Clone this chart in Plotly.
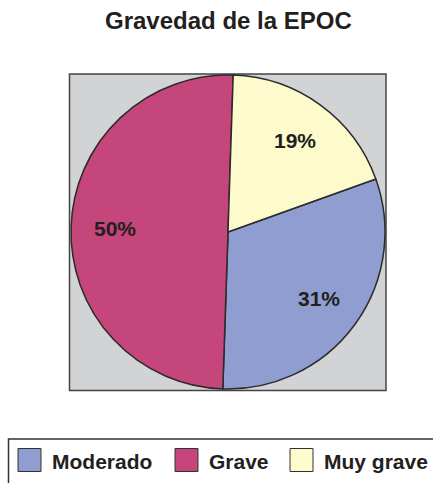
import math
import plotly.graph_objects as go

# Severity distribution of COPD (EPOC) patients
labels = ["Moderado", "Grave", "Muy grave"]
values = [31, 50, 19]
colors = ["#8f9dd1", "#c4467a", "#fdfbcb"]

title_text = "Gravedad de la EPOC"

W, H = 433, 483
TEXT = "#231f20"
FONT = "Liberation Sans, Arial, Helvetica, sans-serif"

# pie geometry (pixels)
PIE_LEFT, PIE_RIGHT, PIE_TOP, PIE_BOTTOM = 71, 385, 75, 389
ROTATION = 70.3
LABEL_RADIUS = 0.72


def px_x(v):
    return v / W


def px_y(v):
    return 1 - v / H


fig = go.Figure(
    go.Pie(
        labels=labels,
        values=values,
        marker=dict(colors=colors, line=dict(color="#2b2b2b", width=1.5)),
        sort=False,
        direction="clockwise",
        rotation=ROTATION,
        textinfo="none",
        hoverinfo="label+percent",
        showlegend=False,
        domain=dict(x=[px_x(PIE_LEFT), px_x(PIE_RIGHT)],
                    y=[px_y(PIE_BOTTOM), px_y(PIE_TOP)]),
    )
)

shapes = [
    # grey panel behind the pie
    dict(type="rect", xref="paper", yref="paper", layer="below",
         x0=px_x(69.5), x1=px_x(386), y0=px_y(390.5), y1=px_y(74),
         fillcolor="#d2d3d5", line=dict(color="#444444", width=1.5)),
    # legend frame (runs off the page edge)
    dict(type="rect", xref="paper", yref="paper", layer="below",
         x0=px_x(8.5), x1=px_x(445), y0=px_y(495), y1=px_y(439),
         fillcolor="rgba(0,0,0,0)", line=dict(color="#333333", width=1.5)),
]

annotations = [
    dict(text=f"<b>{title_text}</b>", xref="paper", yref="paper",
         x=px_x(228.5), y=px_y(21), xanchor="center", yanchor="middle",
         showarrow=False, font=dict(family=FONT, size=24, color=TEXT)),
]

# percentage labels placed along each slice's middle angle
cx = (PIE_LEFT + PIE_RIGHT) / 2
cy = (PIE_TOP + PIE_BOTTOM) / 2
radius = (PIE_RIGHT - PIE_LEFT) / 2
total = sum(values)
cum = 0
for v in values:
    mid = math.radians(ROTATION + 360 * (cum + v / 2) / total)
    cum += v
    lx = cx + LABEL_RADIUS * radius * math.sin(mid)
    ly = cy - LABEL_RADIUS * radius * math.cos(mid)
    annotations.append(dict(text=f"<b>{round(100 * v / total)}%</b>",
                            xref="paper", yref="paper",
                            x=px_x(lx), y=px_y(ly), xanchor="center", yanchor="middle",
                            showarrow=False, font=dict(family=FONT, size=21, color=TEXT)))

# custom legend: swatch + label for each category
swatch_left = [18, 175, 290]
swatch_size = 23
legend_top = 448.5
for lab, col, sx in zip(labels, colors, swatch_left):
    shapes.append(dict(type="rect", xref="paper", yref="paper",
                       x0=px_x(sx), x1=px_x(sx + swatch_size),
                       y0=px_y(legend_top + swatch_size), y1=px_y(legend_top),
                       fillcolor=col, line=dict(color="#333333", width=1)))
    annotations.append(dict(text=f"<b>{lab}</b>", xref="paper", yref="paper",
                            x=px_x(sx + swatch_size + 9), y=px_y(legend_top + swatch_size / 2 + 1),
                            xanchor="left", yanchor="middle", showarrow=False,
                            font=dict(family=FONT, size=21, color=TEXT)))

fig.update_layout(
    width=W, height=H,
    margin=dict(l=0, r=0, t=0, b=0),
    paper_bgcolor="white",
    shapes=shapes,
    annotations=annotations,
)

fig.write_html("out.html")
